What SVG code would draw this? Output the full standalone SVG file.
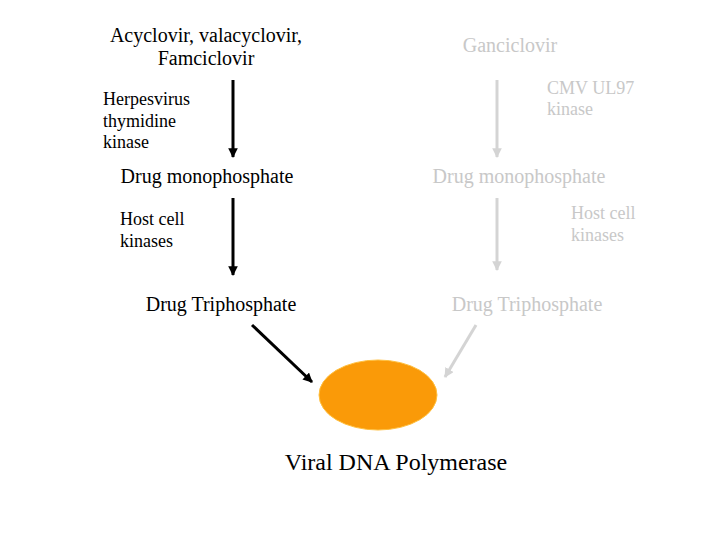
<svg xmlns="http://www.w3.org/2000/svg" width="720" height="540" viewBox="0 0 720 540">
<style>
.t{font-size:20px;fill:#000}
.g{font-size:20px;fill:#c8c8c8}
.l{font-size:18px;fill:#000}
.lg{font-size:18px;fill:#c8c8c8}
.ab{stroke:#000;stroke-width:3;fill:none}
.ag{stroke:#d4d4d4;stroke-width:3;fill:none}
</style>
<defs>
<marker id="hb" viewBox="0 0 10 10" refX="9" refY="5" markerWidth="3.2" markerHeight="3.2" orient="auto" markerUnits="strokeWidth"><path d="M0,0 L10,5 L0,10 z" fill="#000"/></marker>
<marker id="hg" viewBox="0 0 10 10" refX="9" refY="5" markerWidth="3.2" markerHeight="3.2" orient="auto" markerUnits="strokeWidth"><path d="M0,0 L10,5 L0,10 z" fill="#d4d4d4"/></marker>
</defs>
<rect width="720" height="540" fill="#fff"/>
<g font-family="'Liberation Serif', 'Times New Roman', serif">
<g id="acyclovir"><text class="t" x="206" y="42" text-anchor="middle">Acyclovir, valacyclovir,</text><text class="t" x="206" y="65" text-anchor="middle">Famciclovir</text></g>
<g id="ganciclovir"><text class="g" x="510" y="52" text-anchor="middle">Ganciclovir</text></g>
<g id="label-htk"><text class="l" x="103" y="105">Herpesvirus</text><text class="l" x="103" y="127">thymidine</text><text class="l" x="103" y="148">kinase</text></g>
<g id="label-ul97"><text class="lg" x="547" y="94">CMV UL97</text><text class="lg" x="547" y="115">kinase</text></g>
<g id="mono-left"><text class="t" x="207" y="183" text-anchor="middle">Drug monophosphate</text></g>
<g id="mono-right"><text class="g" x="519" y="183" text-anchor="middle">Drug monophosphate</text></g>
<g id="label-host-left"><text class="l" x="120" y="225">Host cell</text><text class="l" x="120" y="247">kinases</text></g>
<g id="label-host-right"><text class="lg" x="571" y="219">Host cell</text><text class="lg" x="571" y="241">kinases</text></g>
<g id="tri-left"><text class="t" x="221" y="311" text-anchor="middle">Drug Triphosphate</text></g>
<g id="tri-right"><text class="g" x="527" y="311" text-anchor="middle">Drug Triphosphate</text></g>
<g id="polymerase"><ellipse cx="378" cy="395" rx="59" ry="35" fill="#fa9a08" stroke="#ffc040" stroke-width="1"/><text x="396" y="470" text-anchor="middle" font-size="24">Viral DNA Polymerase</text></g>
</g>
<g id="connectors">
<line class="ab" x1="233" y1="80" x2="233" y2="157" marker-end="url(#hb)"/>
<line class="ab" x1="233" y1="198" x2="233" y2="275" marker-end="url(#hb)"/>
<line class="ag" x1="497" y1="80" x2="497" y2="157" marker-end="url(#hg)"/>
<line class="ag" x1="497" y1="198" x2="497" y2="270" marker-end="url(#hg)"/>
<line class="ab" x1="252" y1="325" x2="312" y2="382" marker-end="url(#hb)"/>
<line class="ag" x1="476" y1="325" x2="445" y2="377" marker-end="url(#hg)"/>
</g>
</svg>
